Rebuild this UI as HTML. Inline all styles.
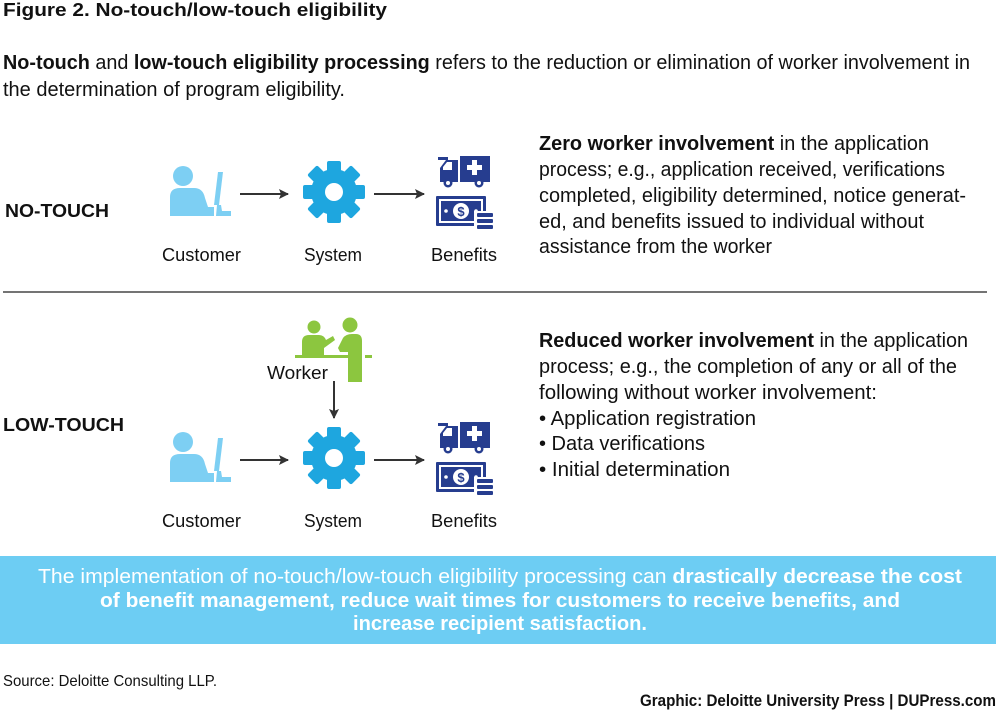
<!DOCTYPE html>
<html><head><meta charset="utf-8"><style>
html,body{margin:0;padding:0;background:#fff;}
svg{display:block;}
text{font-family:"Liberation Sans",sans-serif;fill:#111;}
</style></head><body>
<svg width="1000" height="724" viewBox="0 0 1000 724" xmlns="http://www.w3.org/2000/svg">
<defs>
<marker id="ah" markerWidth="10" markerHeight="10" refX="9" refY="5" orient="auto" markerUnits="userSpaceOnUse">
<path d="M0,0 L10,5 L0,10 L2,5 z" fill="#333"/></marker>
<g id="cust" fill="#7dcff3">
<circle cx="183" cy="176" r="10"/>
<path d="M170,216 L170,197 Q170,188 180,188 L194,188 Q203,188 205,198 L208,207 L214,207 L214,216 z"/>
<path d="M218,172 L223,172 L219,205 L214,205 z"/>
<path d="M217,205 L221,205 L222,211 L231,211 L231,216 L216,216 z"/>
</g>
<g id="gear">
<g fill="#1ea6df">
<circle cx="334" cy="192" r="23"/>
<rect x="327" y="161" width="14" height="62" rx="2"/>
<rect x="327" y="161" width="14" height="62" rx="2" transform="rotate(45 334 192)"/>
<rect x="327" y="161" width="14" height="62" rx="2" transform="rotate(90 334 192)"/>
<rect x="327" y="161" width="14" height="62" rx="2" transform="rotate(135 334 192)"/>
</g>
<circle cx="334" cy="192" r="9" fill="#fff"/>
</g>
<g id="ben">
<g fill="#263d8f">
<rect x="438" y="157" width="10" height="3"/>
<path d="M440,182 L440,168 L446,160 L458,160 L458,182 z"/>
<rect x="460" y="156" width="30" height="26"/>
<circle cx="448" cy="183" r="4.5"/><circle cx="479" cy="183" r="4.5"/>
<rect x="436" y="196" width="50" height="30" rx="1"/>
</g>
<path d="M443,167 L447,162 L452,162 L452,170 L443,170 z" fill="#fff"/>
<rect x="472" y="160" width="5" height="15" fill="#fff"/><rect x="467" y="165" width="15" height="5" fill="#fff"/>
<circle cx="448" cy="183" r="2" fill="#fff"/><circle cx="479" cy="183" r="2" fill="#fff"/>
<rect x="439" y="199" width="44" height="24" fill="#fff"/>
<rect x="441" y="201" width="40" height="20" fill="#263d8f"/>
<circle cx="461" cy="211" r="8" fill="#fff"/>
<text x="461" y="216" font-size="13" font-weight="bold" text-anchor="middle" style="fill:#263d8f">$</text>
<circle cx="446" cy="211" r="1.8" fill="#fff"/><circle cx="476" cy="211" r="1.8" fill="#fff"/>
<rect x="474" y="211" width="20" height="20" fill="#fff"/>
<g fill="#263d8f">
<rect x="477" y="213" width="16" height="4" rx="1"/><rect x="477" y="219" width="16" height="4" rx="1"/><rect x="477" y="225" width="16" height="4" rx="1"/>
</g>
</g>
</defs>

<text x="3" y="16" font-size="18" font-weight="bold" textLength="384" lengthAdjust="spacingAndGlyphs">Figure 2. No-touch/low-touch eligibility</text>
<text x="3" y="69" font-size="20" textLength="967" lengthAdjust="spacingAndGlyphs"><tspan font-weight="bold">No-touch</tspan> and <tspan font-weight="bold">low-touch eligibility processing</tspan> refers to the reduction or elimination of worker involvement in</text>
<text x="3" y="96" font-size="20" textLength="342" lengthAdjust="spacingAndGlyphs">the determination of program eligibility.</text>

<text x="5" y="217" font-size="18" font-weight="bold" textLength="104" lengthAdjust="spacingAndGlyphs">NO-TOUCH</text>
<use href="#cust"/>
<line x1="240" y1="194" x2="288" y2="194" stroke="#333" stroke-width="2" marker-end="url(#ah)"/>
<use href="#gear"/>
<line x1="374" y1="194" x2="424" y2="194" stroke="#333" stroke-width="2" marker-end="url(#ah)"/>
<use href="#ben"/>
<text x="162" y="261" font-size="18" textLength="79" lengthAdjust="spacingAndGlyphs">Customer</text>
<text x="304" y="261" font-size="18" textLength="58" lengthAdjust="spacingAndGlyphs">System</text>
<text x="431" y="261" font-size="18" textLength="66" lengthAdjust="spacingAndGlyphs">Benefits</text>

<g font-size="20">
<text x="539" y="150" textLength="390" lengthAdjust="spacingAndGlyphs"><tspan font-weight="bold">Zero worker involvement</tspan> in the application</text>
<text x="539" y="176" textLength="406" lengthAdjust="spacingAndGlyphs">process; e.g., application received, verifications</text>
<text x="539" y="202" textLength="427" lengthAdjust="spacingAndGlyphs">completed, eligibility determined, notice generat-</text>
<text x="539" y="228" textLength="385" lengthAdjust="spacingAndGlyphs">ed, and benefits issued to individual without</text>
<text x="539" y="253" textLength="233" lengthAdjust="spacingAndGlyphs">assistance from the worker</text>
</g>

<line x1="3" y1="292" x2="987" y2="292" stroke="#222" stroke-width="1.2"/>

<text x="3" y="431" font-size="18" font-weight="bold" textLength="121" lengthAdjust="spacingAndGlyphs">LOW-TOUCH</text>
<g fill="#8cc63f">
<circle cx="314" cy="327" r="6.5"/>
<path d="M302,356 L302,342 Q302,335 309,335 L319,335 Q324,335 326,340 L333,336 L335,340 L324,348 L324,356 z"/>
<circle cx="350" cy="325" r="7.5"/>
<path d="M338,348 L343,338 Q346,334 352,334 L356,334 Q362,334 362,341 L362,382 L348,382 L348,352 L340,352 z"/>
<rect x="295" y="355" width="63" height="3"/>
<rect x="365" y="355" width="7" height="3"/>
</g>
<text x="267" y="379" font-size="18" textLength="61" lengthAdjust="spacingAndGlyphs">Worker</text>
<line x1="334" y1="381" x2="334" y2="418" stroke="#333" stroke-width="2" marker-end="url(#ah)"/>
<g transform="translate(0,266)">
<use href="#cust"/>
<line x1="240" y1="194" x2="288" y2="194" stroke="#333" stroke-width="2" marker-end="url(#ah)"/>
<use href="#gear"/>
<line x1="374" y1="194" x2="424" y2="194" stroke="#333" stroke-width="2" marker-end="url(#ah)"/>
<use href="#ben"/>
<text x="162" y="261" font-size="18" textLength="79" lengthAdjust="spacingAndGlyphs">Customer</text>
<text x="304" y="261" font-size="18" textLength="58" lengthAdjust="spacingAndGlyphs">System</text>
<text x="431" y="261" font-size="18" textLength="66" lengthAdjust="spacingAndGlyphs">Benefits</text>
</g>

<g font-size="20">
<text x="539" y="347" textLength="429" lengthAdjust="spacingAndGlyphs"><tspan font-weight="bold">Reduced worker involvement</tspan> in the application</text>
<text x="539" y="373" textLength="418" lengthAdjust="spacingAndGlyphs">process; e.g., the completion of any or all of the</text>
<text x="539" y="399" textLength="338" lengthAdjust="spacingAndGlyphs">following without worker involvement:</text>
<text x="539" y="425" textLength="217" lengthAdjust="spacingAndGlyphs">• Application registration</text>
<text x="539" y="450" textLength="166" lengthAdjust="spacingAndGlyphs">• Data verifications</text>
<text x="539" y="476" textLength="191" lengthAdjust="spacingAndGlyphs">• Initial determination</text>
</g>

<rect x="0" y="556" width="996" height="88" fill="#6dcdf3"/>
<g font-size="20">
<text x="38" y="583" textLength="924" lengthAdjust="spacingAndGlyphs" style="fill:#fff">The implementation of no-touch/low-touch eligibility processing can <tspan font-weight="bold">drastically decrease the cost</tspan></text>
<text x="100" y="607" textLength="800" lengthAdjust="spacingAndGlyphs" font-weight="bold" style="fill:#fff">of benefit management, reduce wait times for customers to receive benefits, and</text>
<text x="353" y="630" textLength="294" lengthAdjust="spacingAndGlyphs" font-weight="bold" style="fill:#fff">increase recipient satisfaction.</text>
</g>

<text x="3" y="686" font-size="16" textLength="214" lengthAdjust="spacingAndGlyphs">Source: Deloitte Consulting LLP.</text>
<text x="640" y="706" font-size="17" font-weight="bold" textLength="356" lengthAdjust="spacingAndGlyphs">Graphic: Deloitte University Press  |  DUPress.com</text>
</svg>
</body></html>
